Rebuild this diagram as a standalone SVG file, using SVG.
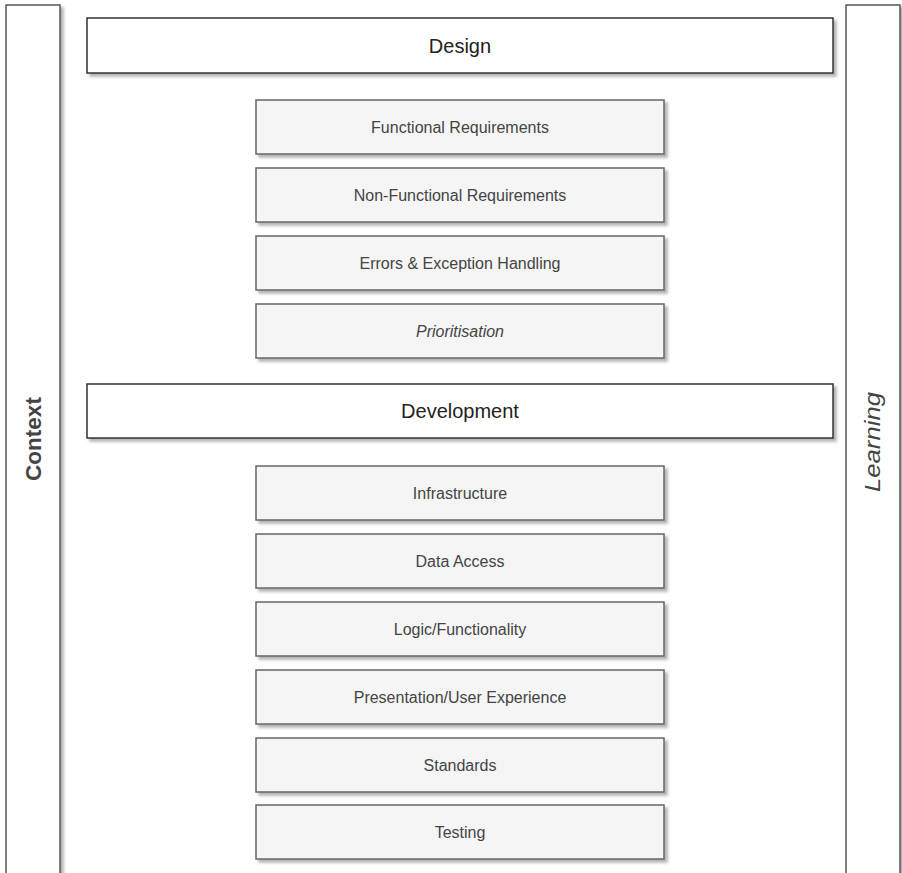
<svg xmlns="http://www.w3.org/2000/svg" width="902" height="873" viewBox="0 0 902 873">
<defs>
<filter id="sh" x="-10%" y="-10%" width="130%" height="130%">
<feDropShadow dx="3" dy="3" stdDeviation="1.5" flood-color="#000" flood-opacity="0.3"/>
</filter>
</defs>
<style>
.side{fill:#fff;stroke:#555;stroke-width:1.5;filter:url(#sh)}
.main{fill:#fff;stroke:#333;stroke-width:1.5;filter:url(#sh)}
.sub{fill:#f5f5f5;stroke:#666;stroke-width:1.5;filter:url(#sh)}
.t{font-family:"Liberation Sans",Arial,sans-serif;text-anchor:middle;dominant-baseline:central;fill:#444}
.ts{font-size:16px}
.tm{font-size:20px;fill:#222}
</style>
<rect width="902" height="873" fill="#fff"/>
<g id="context"><rect class="side" x="6" y="5" width="54" height="880"/><text class="t" x="33" y="439" transform="rotate(-90 33 439)" font-size="22.5" font-weight="bold" fill="#111">Context</text></g>
<g id="learning"><rect class="side" x="846" y="5" width="54" height="880"/><text class="t" x="872" y="442" transform="rotate(-90 872 442)" font-size="22" font-style="italic" fill="#222" textLength="100" lengthAdjust="spacingAndGlyphs">Learning</text></g>
<g id="design"><rect class="main" x="87" y="18" width="746" height="55"/><text class="t tm" x="460" y="45.5">Design</text></g>
<g id="fr"><rect class="sub" x="256" y="100" width="408" height="54"/><text class="t ts" x="460" y="127">Functional Requirements</text></g>
<g id="nfr"><rect class="sub" x="256" y="168" width="408" height="54"/><text class="t ts" x="460" y="195">Non-Functional Requirements</text></g>
<g id="err"><rect class="sub" x="256" y="236" width="408" height="54"/><text class="t ts" x="460" y="263">Errors &amp; Exception Handling</text></g>
<g id="prio"><rect class="sub" x="256" y="304" width="408" height="54"/><text class="t ts" x="460" y="331" font-style="italic">Prioritisation</text></g>
<g id="development"><rect class="main" x="87" y="384" width="746" height="54"/><text class="t tm" x="460" y="411">Development</text></g>
<g id="infra"><rect class="sub" x="256" y="466" width="408" height="54"/><text class="t ts" x="460" y="493">Infrastructure</text></g>
<g id="data"><rect class="sub" x="256" y="534" width="408" height="54"/><text class="t ts" x="460" y="561">Data Access</text></g>
<g id="logic"><rect class="sub" x="256" y="602" width="408" height="54"/><text class="t ts" x="460" y="629">Logic/Functionality</text></g>
<g id="pres"><rect class="sub" x="256" y="670" width="408" height="54"/><text class="t ts" x="460" y="697">Presentation/User Experience</text></g>
<g id="std"><rect class="sub" x="256" y="738" width="408" height="54"/><text class="t ts" x="460" y="765">Standards</text></g>
<g id="test"><rect class="sub" x="256" y="805" width="408" height="54"/><text class="t ts" x="460" y="832">Testing</text></g>
<g id="connectors"></g>
</svg>
